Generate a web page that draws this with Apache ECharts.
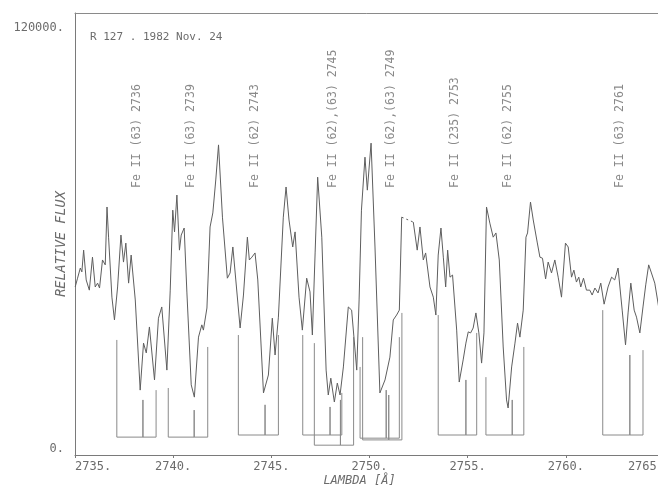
<!DOCTYPE html>
<html>
<head>
<meta charset="utf-8">
<script src="https://cdn.jsdelivr.net/npm/echarts@6/dist/echarts.min.js"></script>
<style>
  html, body { margin: 0; padding: 0; background: #ffffff; }
  #chart { width: 658px; height: 489px; }
</style>
</head>
<body>
<div id="chart"></div>
<script>
// R 127 spectrum, 1982 Nov. 24 — wavelength in Å, relative flux
const wavelength = [
  2735.01, 2735.13, 2735.27, 2735.35, 2735.44, 2735.57, 2735.73, 2735.89, 2736.03, 2736.15,
  2736.25, 2736.40, 2736.54, 2736.63, 2736.71, 2736.88, 2737.01, 2737.17, 2737.34, 2737.47,
  2737.59, 2737.73, 2737.86, 2738.07, 2738.32, 2738.49, 2738.63, 2738.79, 2739.05, 2739.25,
  2739.42, 2739.68, 2739.85, 2739.98, 2740.07, 2740.19, 2740.32, 2740.41, 2740.56, 2740.70,
  2740.92, 2741.08, 2741.29, 2741.46, 2741.54, 2741.72, 2741.88, 2742.02, 2742.17, 2742.31,
  2742.51, 2742.76, 2742.90, 2743.04, 2743.19, 2743.41, 2743.58, 2743.78, 2743.88, 2744.01,
  2744.17, 2744.31, 2744.60, 2744.85, 2745.05, 2745.19, 2745.36, 2745.61, 2745.75, 2745.90,
  2746.09, 2746.21, 2746.41, 2746.58, 2746.80, 2746.97, 2747.09, 2747.23, 2747.36, 2747.57,
  2747.79, 2747.90, 2748.03, 2748.21, 2748.36, 2748.50, 2748.67, 2748.92, 2749.09, 2749.35,
  2749.47, 2749.59, 2749.77, 2749.89, 2750.08, 2750.28, 2750.53, 2750.79, 2751.04, 2751.21,
  2751.38, 2751.52, 2751.64, 2751.90, 2752.23, 2752.32, 2752.43, 2752.57, 2752.74, 2752.86,
  2753.08, 2753.25, 2753.38, 2753.50, 2753.64, 2753.76, 2753.88, 2753.98, 2754.10, 2754.23,
  2754.44, 2754.57, 2754.77, 2754.91, 2755.03, 2755.15, 2755.28, 2755.42, 2755.57, 2755.71,
  2755.83, 2755.96, 2756.13, 2756.30, 2756.44, 2756.61, 2756.81, 2756.98, 2757.06, 2757.24,
  2757.41, 2757.54, 2757.66, 2757.83, 2757.97, 2758.05, 2758.20, 2758.34, 2758.54, 2758.68,
  2758.81, 2758.97, 2759.10, 2759.27, 2759.44, 2759.61, 2759.78, 2759.98, 2760.12, 2760.29,
  2760.41, 2760.54, 2760.66, 2760.76, 2760.90, 2761.05, 2761.22, 2761.34, 2761.48, 2761.64,
  2761.78, 2761.95, 2762.15, 2762.33, 2762.49, 2762.66, 2762.87, 2763.04, 2763.17, 2763.31,
  2763.48, 2763.60, 2763.77, 2763.93, 2764.07, 2764.22, 2764.36, 2764.53, 2764.67, 2764.90
];
// null marks the stretch without measured data (bridged by a dashed segment)
const flux = [
  47900, 50400, 53300, 52200, 58400, 49900, 47000, 56400, 47900, 49000,
  47600, 55600, 54200, 70700, 62100, 45000, 38500, 47900, 62700, 55000,
  60400, 49000, 57000, 44200, 18500, 31900, 29100, 36500, 21400, 39000,
  42200, 24200, 47000, 69800, 63600, 74100, 58400, 62700, 64700, 46200,
  20000, 16500, 33600, 37100, 35600, 41900, 65000, 69000, 78400, 88400,
  67800, 50400, 51900, 59300, 49900, 36200, 45600, 62100, 55600, 56400,
  57600, 49900, 17700, 22800, 39000, 28500, 39300, 67800, 76400, 67000,
  59300, 63600, 45000, 35600, 50400, 46500, 34200, 57600, 79200, 62100,
  24200, 17100, 21900, 15100, 20500, 17100, 25100, 42200, 41300, 24200,
  44200, 69800, 84900, 75500, 88900, 59300, 17700, 21400, 27900, 38500,
  39900, 41300, 67800, null, 66400, 66100, 58400, 65000, 55600, 57600,
  47900, 45000, 39900, 57000, 64700, 56400, 47900, 58400, 50700, 51300,
  35600, 20800, 27100, 31900, 35100, 34800, 36200, 40500, 34800, 26200,
  34800, 70700, 66100, 62100, 63300, 55600, 30800, 15700, 13400, 25100,
  31900, 37600, 33600, 41300, 62100, 63300, 72100, 67000, 60700, 56400,
  56100, 50200, 55000, 51900, 55600, 50700, 45000, 60400, 59300, 50700,
  52700, 49300, 50700, 47900, 50400, 47000, 47000, 45600, 47600, 46200,
  49000, 43000, 47900, 50700, 49900, 53300, 41300, 31400, 40500, 49000,
  41300, 39300, 34800, 42200, 48500, 54200, 51900, 49000, 44200, 36000
];
const gapWavelength = [2751.64, 2752.23];
const gapFlux = [67800, 66400];

// Line identifications
const lineLabels = [
  'Fe II (63) 2736', 'Fe II (63) 2739', 'Fe II (62) 2743', 'Fe II (62),(63) 2745',
  'Fe II (62),(63) 2749', 'Fe II (235) 2753', 'Fe II (62) 2755', 'Fe II (63) 2761'
];
const labelWavelength = [2738.17, 2740.92, 2744.17, 2748.14, 2751.09, 2754.35, 2757.05, 2762.75];
const labelFlux = 76100;

// Marker brackets: wavelengths of the ticks, their upper ends, and the common base
const markerWavelength = [
  [2737.13, 2738.46, 2739.13],
  [2739.75, 2741.07, 2741.76],
  [2743.32, 2744.68, 2745.36],
  [2746.60, 2747.99, 2748.59],
  [2747.19, 2748.52, 2749.19],
  [2749.52, 2750.85, 2751.52],
  [2749.65, 2750.98, 2751.65],
  [2753.50, 2754.91, 2755.46],
  [2755.93, 2757.27, 2757.86],
  [2761.88, 2763.26, 2763.93]
];
const markerTop = [
  [32800, 15700, 18500],
  [19100, 12800, 30800],
  [34200, 14300, 34200],
  [34200, 13700, 17700],
  [31900, 15700, 33600],
  [25100, 18500, 33600],
  [33600, 17100, 40500],
  [39900, 21400, 34800],
  [22200, 15700, 30800],
  [41300, 28500, 29900]
];
const markerBase = [5100, 5100, 5700, 5700, 2800, 4800, 4300, 5700, 5700, 5700];

const yTickValues = [0, 120000];

const INK = '#6c6c6c';
const FONT = 'DejaVu Sans Mono';

const spectrum = wavelength.map((w, i) => [w, flux[i]]);
const gap = gapWavelength.map((w, i) => [w, gapFlux[i]]);

const bracketSeries = markerWavelength.map((ws, k) => {
  const base = markerBase[k];
  const pts = [];
  ws.forEach((w, i) => {
    if (i === 0) {
      pts.push([w, markerTop[k][i]], [w, base]);
    } else if (i === ws.length - 1) {
      pts.push([w, base], [w, markerTop[k][i]]);
    } else {
      pts.push([w, base], [w, markerTop[k][i]], [w, base]);
    }
  });
  return {
    type: 'line', data: pts, symbol: 'none', silent: true,
    lineStyle: { color: '#8a8a8a', width: 1 }, z: 1
  };
});

const chart = echarts.init(document.getElementById('chart'), null, { renderer: 'canvas' });
chart.setOption({
  animation: false,
  backgroundColor: '#ffffff',
  title: {
    text: 'R 127 . 1982 Nov. 24',
    left: 85, top: 27,
    textStyle: { fontFamily: FONT, fontSize: 11, fontWeight: 'normal', color: INK }
  },
  grid: {
    left: 75, right: -6, top: 13, bottom: 34, show: false,
    containLabel: false, outerBoundsMode: 'none'
  },
  xAxis: [{
    type: 'value', min: 2735, max: 2765, interval: 5,
    name: 'LAMBDA [Å]', nameLocation: 'middle', nameGap: 20, nameMoveOverlap: false,
    nameTextStyle: { fontFamily: FONT, fontStyle: 'italic', fontSize: 12, color: INK, padding: [0, 20, 0, 0] },
    axisLine: { show: true, lineStyle: { color: '#7a7a7a', width: 1 } },
    axisTick: { show: true, length: 3, inside: false, lineStyle: { color: '#7a7a7a' } },
    axisLabel: {
      fontFamily: FONT, fontSize: 12, color: INK, margin: 6,
      alignMinLabel: 'left', alignMaxLabel: 'right',
      formatter: v => v + '.'
    },
    splitLine: { show: false }
  }, {
    type: 'value', position: 'top', min: 2735, max: 2765,
    axisLine: { show: true, lineStyle: { color: '#8a8a8a', width: 1 } },
    axisTick: { show: false }, axisLabel: { show: false }, splitLine: { show: false }
  }],
  yAxis: {
    type: 'value', min: 0, max: 126000,
    name: 'RELATIVE FLUX', nameLocation: 'middle', nameGap: 7, nameRotate: 90,
    nameMoveOverlap: false,
    nameTextStyle: { fontFamily: FONT, fontStyle: 'italic', fontSize: 13.5, color: INK, padding: [0, 20, 0, 0] },
    axisLine: { show: true, lineStyle: { color: '#7a7a7a', width: 1 } },
    axisTick: { show: false },
    axisLabel: {
      customValues: yTickValues,
      fontFamily: FONT, fontSize: 12, color: INK, margin: 11,
      verticalAlign: 'bottom',
      formatter: v => v + '.'
    },
    splitLine: { show: false }
  },
  series: [
    ...bracketSeries,
    {
      type: 'line', data: spectrum, symbol: 'none', connectNulls: false, silent: true,
      lineStyle: { color: '#5e5e5e', width: 1 }, z: 3
    },
    {
      type: 'line', data: gap, symbol: 'none', silent: true,
      lineStyle: { color: '#5e5e5e', width: 1, type: [2, 3] }, z: 3
    },
    {
      type: 'scatter', silent: true, symbolSize: 0,
      data: labelWavelength.map((w, i) => ({ value: [w, labelFlux], name: lineLabels[i] })),
      label: {
        show: true, position: 'inside', rotate: 90, align: 'left', verticalAlign: 'middle',
        formatter: p => p.name,
        fontFamily: FONT, fontSize: 11.5, color: INK
      },
      z: 4
    }
  ]
});
</script>
</body>
</html>
